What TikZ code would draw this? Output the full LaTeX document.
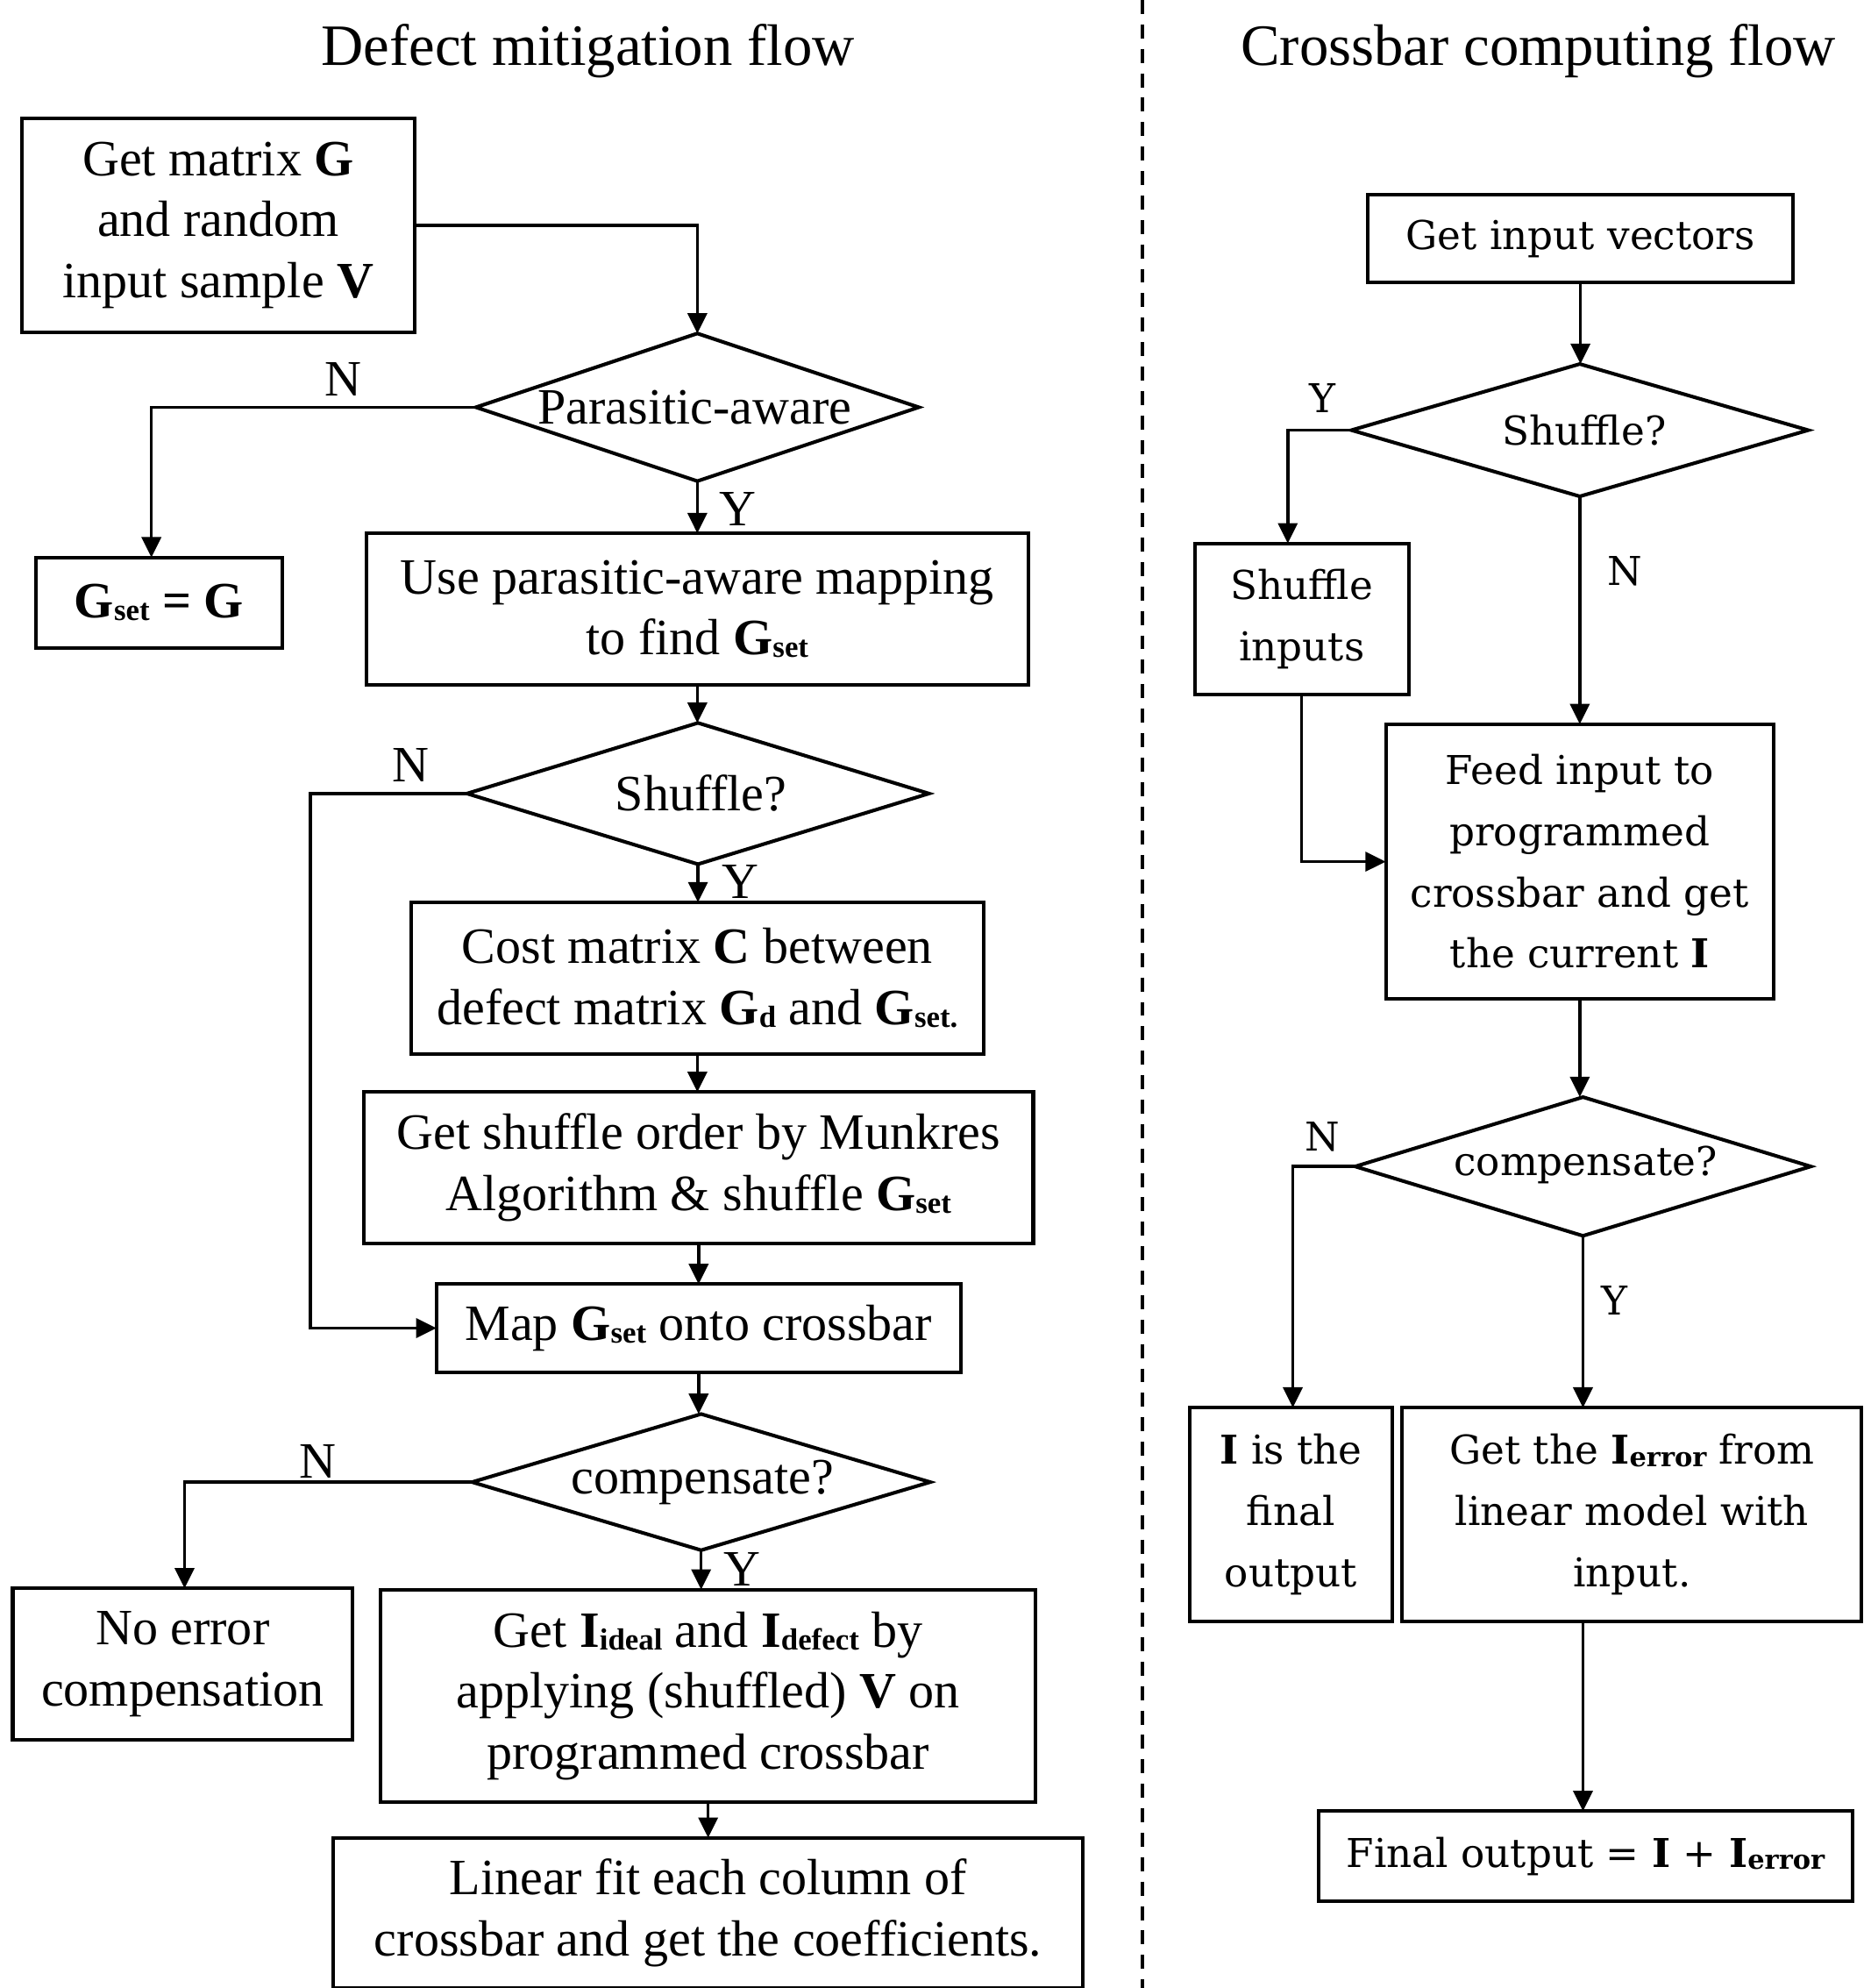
\documentclass[tikz,border=0pt]{standalone}
\usepackage{fontspec}
\setmainfont{Liberation Serif}
\newfontfamily\rfont{DejaVu Serif}
\usetikzlibrary{arrows.meta,shapes.geometric}
\newcommand\lsub[1]{\raisebox{-1pt}{\fontsize{12}{12}\selectfont\bfseries #1}}
\newcommand\rsub[1]{\raisebox{-0.8pt}{\fontsize{10.5}{10.5}\selectfont\bfseries #1}}
\tikzset{
  lfont/.style={font=\fontsize{20}{24}\selectfont},
  rtext/.style={font=\rfont\fontsize{15.6}{24}\selectfont},
  bx/.style 2 args={draw, line width=1.4pt, inner sep=0pt, outer sep=0pt, align=center,
    minimum width=#1*0.5pt, minimum height=#2*0.5pt},
  dm/.style 2 args={draw, diamond, line width=1.4pt, inner sep=0pt, outer sep=0pt,
    minimum width=#1*0.5pt, minimum height=#2*0.5pt},
  arr/.style={line width=1.2pt, -{Triangle[length=8pt,width=7.6pt]}},
  lbl/.style={inner sep=0pt}
}
\begin{document}
\begin{tikzpicture}[x=0.5pt,y=-0.5pt]
\useasboundingbox (0,0) rectangle (1470,1562);
% titles
\node[lbl, font=\fontsize{23}{27}\selectfont] (t1) at (462,40) {Defect mitigation flow};
\node[lbl, font=\fontsize{23}{27}\selectfont] (t2) at (1209,40) {Crossbar computing flow};
\draw[line width=1.4pt, dash pattern=on 5.5pt off 4.1pt] (898,0) -- (898,1562);

% left column
\node[bx={309}{168}, lfont] (b1) at (171.5,177) {Get matrix \textbf{G}\\and random\\input sample \textbf{V}};
\node[dm={348}{116}] (d1) at (548,320) {};
\node[lfont] (d1t) at (546,320) {Parasitic-aware};
\node[bx={194}{71}, lfont] (bg) at (125,473.5) {\bfseries G\lsub{set} = G};
\node[bx={520}{119}, lfont] (b2) at (548,478.5) {Use parasitic-aware mapping\\to find \textbf{G}\lsub{set}};
\node[dm={363}{111}] (d2) at (548.5,623.5) {};
\node[lfont] (d2t) at (551,623.5) {Shuffle?};
\node[bx={450}{119}, lfont] (b3) at (548,768.5) {Cost matrix \textbf{C} between\\defect matrix \textbf{G}\lsub{d} and \textbf{G}\lsub{set.}};
\node[bx={526}{119}, lfont] (b4) at (549,917.5) {Get shuffle order by Munkres\\Algorithm \& shuffle \textbf{G}\lsub{set}};
\node[bx={412}{69}, lfont] (b5) at (549,1043.5) {Map \textbf{G}\lsub{set} onto crossbar};
\node[dm={360}{107}] (d3) at (551,1164.5) {};
\node[lfont] (d3t) at (552,1164.5) {compensate?};
\node[bx={267}{119}, lfont] (b6) at (143.5,1307.5) {No error\\compensation};
\node[bx={515}{167}, lfont] (b7) at (556.5,1332.5) {Get \textbf{I}\lsub{ideal} and \textbf{I}\lsub{defect} by\\applying (shuffled) \textbf{V} on\\programmed crossbar};
\node[bx={589}{118}, lfont] (b8) at (556.5,1503) {Linear fit each column of\\crossbar and get the coefficients.};

\node[lbl, lfont] (n1) at (270,298) {N};
\node[lbl, lfont] (y1) at (580,400) {Y};
\node[lbl, lfont] (n2) at (323,601) {N};
\node[lbl, lfont] (y2) at (582,693) {Y};
\node[lbl, lfont] (n3) at (250,1148) {N};
\node[lbl, lfont] (y3) at (583,1233) {Y};

\coordinate (c1) at (244,0);
\draw[arr] (b1.east) -| (d1.north);
\draw[arr] (d1.west) -| ([xshift=-3pt]bg.north);
\draw[arr] (d1.south) -- (d1.south |- b2.north);
\draw[arr] (b2.south) -- (b2.south |- d2.north);
\draw[arr] (d2.west) -- (d2.west -| c1) -- (c1 |- b5.west) -- (b5.west);
\draw[arr] (d2.south) -- (d2.south |- b3.north);
\draw[arr] (b3.south) -- (b3.south |- b4.north);
\draw[arr] (b4.south) -- (b4.south |- b5.north);
\draw[arr] (b5.south) -- (b5.south |- d3.north);
\draw[arr] (d3.west) -| ([xshift=0.75pt]b6.north);
\draw[arr] (d3.south) -- (d3.south |- b7.north);
\draw[arr] (b7.south) -- (b8.north);

% right column
\node[bx={334}{69}, rtext] (r1) at (1242,187.5) {Get input vectors};
\node[dm={359}{104}] (rd1) at (1241.5,338) {};
\node[rtext] (rd1t) at (1245,338) {Shuffle?};
\node[bx={168}{119}, rtext] (r2) at (1023,486.5) {Shuffle\\inputs};
\node[bx={305}{216}, rtext] (r3) at (1241.5,677) {Feed input to\\programmed\\crossbar and get\\the current \textbf{I}};
\node[dm={358}{109}] (rd2) at (1244,916.5) {};
\node[rtext] (rd2t) at (1246,915) {compensate?};
\node[bx={159}{168}, rtext] (r4) at (1014.5,1190) {\textbf{I} is the\\final\\output};
\node[bx={361}{168}, rtext] (r5) at (1282.5,1190) {Get the \textbf{I}\rsub{error} from\\linear model with\\input.};
\node[bx={420}{71}, rtext] (r6) at (1246,1458.5) {Final output = \textbf{I} + \textbf{I}\rsub{error}};

\node[lbl, rtext] (ry1) at (1039,313) {Y};
\node[lbl, rtext] (rn1) at (1277,449) {N};
\node[lbl, rtext] (rn2) at (1039,893) {N};
\node[lbl, rtext] (ry2) at (1269,1022) {Y};

\draw[arr] (r1.south) -- (r1.south |- rd1.north);
\draw[arr] (rd1.west) -| ([xshift=-5.5pt]r2.north);
\draw[arr] (rd1.south) -- (rd1.south |- r3.north);
\draw[arr] (r2.south) -- (r2.south |- r3.west) -- (r3.west);
\draw[arr] (r3.south) -- (r3.south |- rd2.north);
\draw[arr] (rd2.west) -| ([xshift=0.75pt]r4.north);
\draw[arr] (rd2.south) -- (rd2.south |- r5.north);
\draw[arr] (rd2.south |- r5.south) -- (rd2.south |- r6.north);
\end{tikzpicture}
\end{document}
